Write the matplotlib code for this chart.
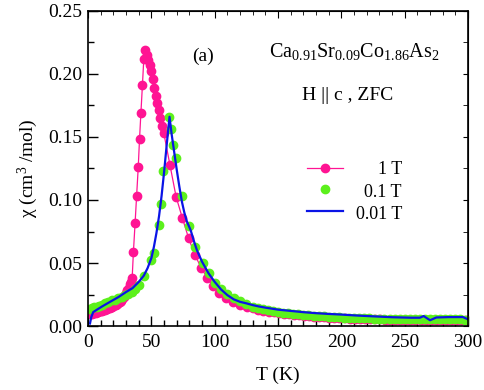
import matplotlib
matplotlib.use("Agg")
import matplotlib.pyplot as plt
from matplotlib.ticker import MultipleLocator

plt.rcParams['font.family'] = ['Liberation Serif', 'DejaVu Serif']
plt.rcParams['mathtext.fontset'] = 'custom'
plt.rcParams['mathtext.rm'] = 'Liberation Serif'
plt.rcParams['mathtext.it'] = 'Liberation Serif:italic'

# 1 T (pink, markers + line)
t_1T = [2, 3, 4, 5, 6, 7, 8, 9, 10, 11, 12, 13, 14, 15, 16, 17, 18, 19, 20, 21,
        22, 23, 24, 25, 26, 27, 28, 29, 30, 31, 32, 33, 34, 34.8, 35.8, 37.1,
        38.3, 39.6, 40.6, 41.7, 42.9, 44.0, 45.0, 46.2, 47.5, 48.8, 50.0, 51.2,
        52.3, 53.4, 54.6, 55.7, 57.0, 58.4, 59.8, 64.6, 69.5, 74.5, 79.4, 84.2,
        89.3, 93.9, 98.5, 103.6, 109.2, 114.6, 120, 125.3, 130.5, 134.5, 138.5,
        142.5, 146.5, 150.5, 154.5, 158.5, 162.5, 166.5, 170.5, 174.5, 178.5,
        182.5, 186.5, 190.5, 194.5, 198.5, 202.5, 206.5, 210.5, 214.5, 218.5,
        222.5, 226.5, 230.5, 234.5, 238.5, 242.5, 246.5, 250.5, 254.5, 258.5,
        262.5, 266.5, 270.5, 274.5, 278.5, 282.5, 286.5, 290.5, 294.5, 298.5]
chi_1T = [0.0095, 0.0098, 0.0101, 0.0104, 0.0107, 0.0110, 0.0113, 0.0116, 0.0119,
          0.0122, 0.0125, 0.0128, 0.0132, 0.0136, 0.0140, 0.0144, 0.0149, 0.0154,
          0.0159, 0.0164, 0.0170, 0.0176, 0.0183, 0.0192, 0.0202, 0.0214, 0.0228,
          0.0245, 0.0265, 0.0285, 0.0305, 0.0330, 0.0350, 0.038, 0.059, 0.0815,
          0.103, 0.126, 0.148, 0.169, 0.191, 0.212, 0.2186, 0.215, 0.211, 0.207,
          0.202, 0.196, 0.189, 0.1826, 0.177, 0.1715, 0.165, 0.159, 0.153, 0.128,
          0.1025, 0.0855, 0.0696, 0.0567, 0.0462, 0.0384, 0.0318, 0.0266, 0.0225,
          0.0193, 0.0170, 0.0153, 0.0140, 0.0131, 0.0122, 0.0115, 0.0108, 0.0102,
          0.0097, 0.0092, 0.0088, 0.0084, 0.0080, 0.0077, 0.0074, 0.0071, 0.0068,
          0.0066, 0.0064, 0.0062, 0.0060, 0.0059, 0.0057, 0.0056, 0.0055, 0.0054,
          0.0053, 0.0052, 0.0051, 0.0051, 0.0050, 0.0050, 0.0049, 0.0049, 0.0048,
          0.0048, 0.0048, 0.0047, 0.0047, 0.0047, 0.0046, 0.0046, 0.0046, 0.0046,
          0.0045]

# 0.1 T (green markers)
t_01T = [1.5, 3, 5, 7, 9, 11, 13.4, 16, 19, 21.5, 24, 26.5, 29, 31.8, 34.5, 37.2,
         40, 44.5, 50, 52, 55.8, 57.4, 59.5, 63.6, 65.6, 67.4, 69.6, 74.5, 79.9,
         84.6, 91, 95.8, 100.2, 105, 110, 115, 120, 125, 130, 134, 138, 142, 146,
         150, 154, 158, 162, 166, 170, 174, 178, 182, 186, 190, 194, 198, 202, 206,
         210, 214, 218, 222, 226, 230, 234, 238, 242, 246, 250, 254, 258, 262, 266,
         270, 274, 278, 282, 286, 290, 294, 298]
chi_01T = [0.0132, 0.0140, 0.0148, 0.0155, 0.0162, 0.0168, 0.0180, 0.0190, 0.0203,
           0.0210, 0.0220, 0.0232, 0.0245, 0.0258, 0.0270, 0.0295, 0.0325, 0.0397,
           0.0525, 0.0577, 0.0800, 0.0972, 0.1230, 0.1655, 0.1560, 0.1440, 0.1330,
           0.1035, 0.0796, 0.0630, 0.0500, 0.0418, 0.0344, 0.0290, 0.0252, 0.0220,
           0.0195, 0.0172, 0.0155, 0.0143, 0.0134, 0.0126, 0.0119, 0.0113, 0.0107,
           0.0102, 0.0097, 0.0093, 0.0089, 0.0086, 0.0082, 0.0079, 0.0076, 0.0074,
           0.0071, 0.0069, 0.0067, 0.0065, 0.0064, 0.0062, 0.0061, 0.0060, 0.0059,
           0.0058, 0.0057, 0.0057, 0.0056, 0.0056, 0.0055, 0.0055, 0.0054, 0.0054,
           0.0054, 0.0053, 0.0053, 0.0053, 0.0052, 0.0052, 0.0052, 0.0052, 0.0051]

# 0.01 T (blue line)
t_001T = [1.5, 2.5, 4, 7, 11, 17, 24, 30, 35, 40, 44, 47, 50, 52, 54, 56, 58, 60,
          62, 64.3, 66, 68, 70, 72, 74, 76, 78, 81, 84, 86, 90, 95, 100, 105, 110,
          115, 120, 125, 130, 135, 140, 145, 150, 160, 170, 180, 190, 200, 211, 225,
          240, 255, 262, 265, 270, 275, 285, 296, 300]
chi_001T = [0.002, 0.007, 0.011, 0.013, 0.0155, 0.019, 0.023, 0.027, 0.030, 0.035,
            0.040, 0.046, 0.054, 0.063, 0.074, 0.087, 0.103, 0.122, 0.143, 0.166,
            0.152, 0.138, 0.124, 0.111, 0.099, 0.090, 0.083, 0.076, 0.066, 0.060,
            0.051, 0.042, 0.035, 0.029, 0.0245, 0.0212, 0.0192, 0.0180, 0.0166,
            0.0155, 0.0146, 0.0138, 0.0130, 0.0120, 0.0110, 0.0102, 0.0096, 0.0091,
            0.0084, 0.0077, 0.0070, 0.0066, 0.0066, 0.0079, 0.0046, 0.0068, 0.0071,
            0.0071, 0.0053]

labels = ['1 T', '0.1 T', '0.01 T']

fig = plt.figure(figsize=(4.84, 3.90), dpi=100)
ax = fig.add_axes([0.182, 0.164, 0.785, 0.808])

h1, = ax.plot(t_1T, chi_1T, '-o', color='#ff1493', lw=0.9, ms=6, mec='#ff1493')
h2, = ax.plot(t_01T, chi_01T, 'o', color='#5cf01c', ms=6, mec='#5cf01c')
h3, = ax.plot(t_001T, chi_001T, '-', color='#0a14e6', lw=1.6)

ax.set_xlim(0, 300)
ax.set_ylim(0, 0.25)
ax.xaxis.set_major_locator(MultipleLocator(50))
ax.xaxis.set_minor_locator(MultipleLocator(10))
ax.yaxis.set_major_locator(MultipleLocator(0.05))
ax.yaxis.set_minor_locator(MultipleLocator(0.025))
ax.yaxis.set_major_formatter(plt.FormatStrFormatter('%.2f'))
ax.tick_params(which='both', direction='in', labelsize=14, width=1)
ax.tick_params(which='major', length=7)
ax.tick_params(which='minor', length=4)
ax.tick_params(axis='x', pad=6)
ax.tick_params(axis='y', pad=4)
for s in ax.spines.values():
    s.set_linewidth(1.2)

# top and right ticks, shorter, no labels
top = ax.secondary_xaxis('top')
top.xaxis.set_major_locator(MultipleLocator(50))
top.xaxis.set_minor_locator(MultipleLocator(10))
top.tick_params(which='both', direction='in', labeltop=False)
top.tick_params(which='major', length=5)
top.tick_params(which='minor', length=3)
right = ax.secondary_yaxis('right')
right.yaxis.set_major_locator(MultipleLocator(0.05))
right.yaxis.set_minor_locator(MultipleLocator(0.025))
right.tick_params(which='both', direction='in', labelright=False, length=3.5)

ax.set_xlabel('T (K)', fontsize=14, labelpad=11)
ax.set_ylabel('χ (cm$^3$ /mol)', fontsize=14, labelpad=6)

ax.text(0.303, 0.857, '(a)', transform=ax.transAxes, fontsize=14, ha='center', va='center')
ax.text(0.70, 0.872, 'Ca$_{0.91}$Sr$_{0.09}$Co$_{1.86}$As$_2$', transform=ax.transAxes,
        fontsize=14.5, ha='center', va='center')
ax.text(0.683, 0.733, 'H || c , ZFC', transform=ax.transAxes, fontsize=14,
        ha='center', va='center')

# legend: handles only, labels right-aligned as separate texts
ax.legend([h1, h2, h3], ['', '', ''], loc='upper left', bbox_to_anchor=(0.575, 0.523),
          frameon=False, fontsize=13, labelspacing=0.25, handlelength=2.0,
          handletextpad=0.0, borderpad=0, borderaxespad=0)
for lab, yy in zip(labels, [0.496, 0.424, 0.353]):
    ax.text(0.826, yy, lab, transform=ax.transAxes, fontsize=13, ha='right', va='center')

fig.savefig('out.png', dpi=100)
